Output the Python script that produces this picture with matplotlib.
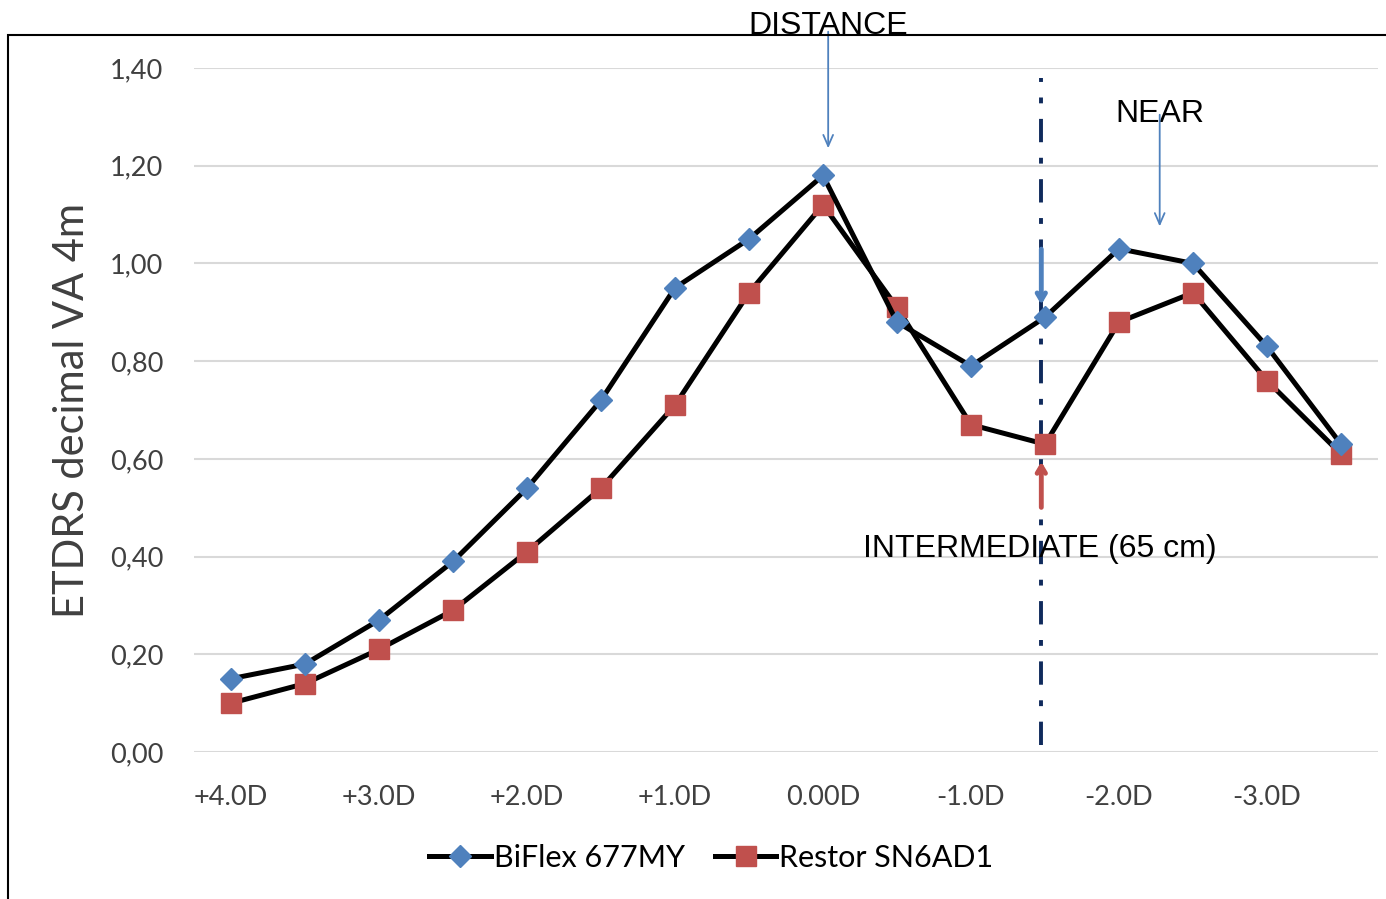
import matplotlib.pyplot as plt
from matplotlib.patches import Rectangle

# dioptres de défocalisation
categories = ['+4.0D', '+3.5D', '+3.0D', '+2.5D', '+2.0D', '+1.5D', '+1.0D', '+0.5D',
              '0.00D', '-0.5D', '-1.0D', '-1.5D', '-2.0D', '-2.5D', '-3.0D', '-3.5D']

biflex = [0.15, 0.18, 0.27, 0.39, 0.54, 0.72, 0.95, 1.05,
          1.18, 0.88, 0.79, 0.89, 1.03, 1.00, 0.83, 0.63]
restor = [0.10, 0.14, 0.21, 0.29, 0.41, 0.54, 0.71, 0.94,
          1.12, 0.91, 0.67, 0.63, 0.88, 0.94, 0.76, 0.61]

yticks = [0.0, 0.2, 0.4, 0.6, 0.8, 1.0, 1.2, 1.4]

plt.rcParams['font.family'] = ['Lato', 'DejaVu Sans']

fig = plt.figure(figsize=(13.86, 8.99), dpi=100)
ax = fig.add_axes([194 / 1386, 1 - 752 / 899, 1184 / 1386, 684 / 899])

x = list(range(len(categories)))
ax.plot(x, biflex, color='black', lw=3.6, marker='D', ms=11,
        mfc='#4F81BD', mec='#4F81BD', label='BiFlex 677MY', zorder=4)
ax.plot(x, restor, color='black', lw=3.6, marker='s', ms=14,
        mfc='#C0504D', mec='#C0504D', label='Restor SN6AD1', zorder=3)

ax.set_xlim(-0.5, len(categories) - 0.5)
ax.set_ylim(0, 1.4)
ax.set_yticks(yticks)
ax.set_yticklabels([f'{v:.2f}'.replace('.', ',') for v in yticks])
ax.set_xticks(x[::2])
ax.set_xticklabels(categories[::2])
ax.tick_params(length=0, labelsize=19.5, colors='#404040')
ax.tick_params(axis='x', pad=24)
ax.tick_params(axis='y', pad=22)
ax.grid(axis='y', color='#D9D9D9', lw=1.5)
ax.set_axisbelow(True)
for s in ax.spines.values():
    s.set_visible(False)
ax.set_ylabel('ETDRS decimal VA 4m', fontsize=30, color='#404040', labelpad=14)

# ligne verticale pour la vision intermédiaire
ax.plot([10.95, 10.95], [0.015, 1.38], color='#0F2A5C', lw=2.8,
        ls=(0, (6, 4, 1.5, 4)), zorder=2)

# flèches et annotations
afont = dict(family=['Liberation Sans'], fontsize=23, color='black')
ax.annotate('', xy=(8.07, 1.23), xytext=(8.07, 1.48), annotation_clip=False,
            arrowprops=dict(arrowstyle='->,head_width=0.35,head_length=0.8',
                            color='#4F81BD', lw=1.3))
ax.text(8.07, 1.455, 'DISTANCE', ha='center', va='bottom', clip_on=False, **afont)
ax.text(12.55, 1.275, 'NEAR', ha='center', va='bottom', **afont)
ax.annotate('', xy=(12.55, 1.07), xytext=(12.55, 1.31),
            arrowprops=dict(arrowstyle='->,head_width=0.35,head_length=0.8',
                            color='#4F81BD', lw=1.3))
ax.annotate('', xy=(10.95, 0.91), xytext=(10.95, 1.035),
            arrowprops=dict(arrowstyle='->,head_width=0.3,head_length=0.5',
                            color='#4F81BD', lw=3.5))
ax.annotate('', xy=(10.95, 0.6), xytext=(10.95, 0.495),
            arrowprops=dict(arrowstyle='->,head_width=0.3,head_length=0.5',
                            color='#C0504D', lw=3.5))
ax.text(10.93, 0.415, 'INTERMEDIATE (65 cm)', ha='center', va='center', **afont)

ax.legend(loc='center', bbox_to_anchor=(0.437, -0.155), ncol=2, frameon=False,
          fontsize=22, handlelength=2.0, handletextpad=0.1, columnspacing=1.0)

# cadre
fig.patches.append(Rectangle((8 / 1386, -0.1), 1.2, 1 - 35 / 899 + 0.1,
                             transform=fig.transFigure, fill=False,
                             ec='black', lw=1.5, zorder=0))

fig.savefig('out.png', dpi=100)
